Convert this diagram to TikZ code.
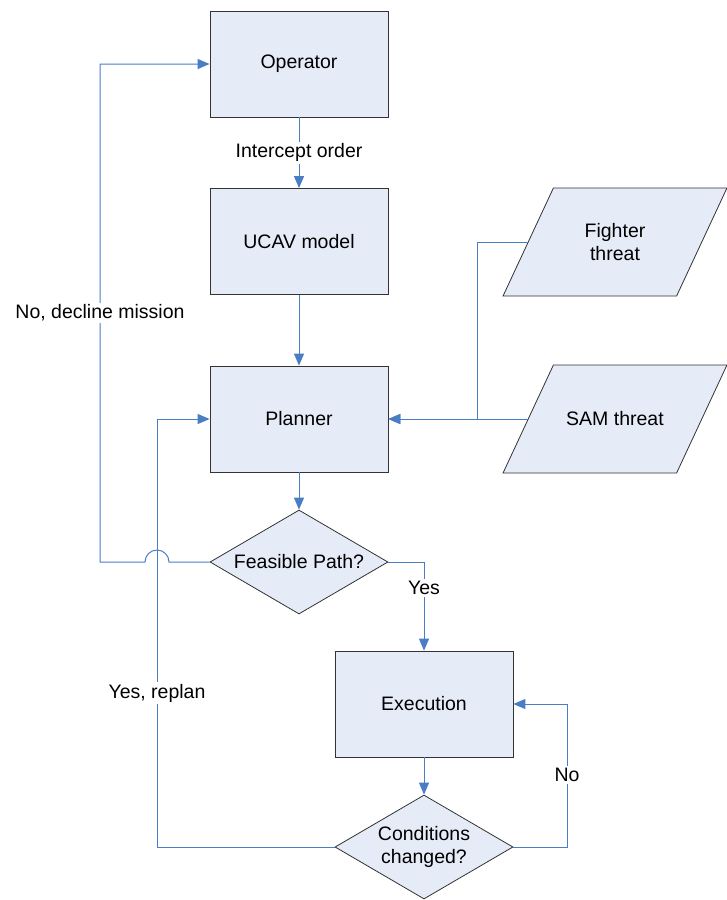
\documentclass[tikz,border=0pt]{standalone}
\usepackage{fontspec}
\setmainfont{Liberation Sans}
\usetikzlibrary{shapes.geometric,arrows.meta}
\definecolor{boxfill}{RGB}{230,236,247}
\definecolor{linkblue}{RGB}{74,126,196}

\begin{document}
\begin{tikzpicture}[x=1pt,y=-1pt,font=\fontsize{19.5}{23}\selectfont,
  block/.style={draw=black!80, fill=boxfill, line width=0.8pt, minimum width=178pt, minimum height=106pt},
  decision/.style={draw=black!80, fill=boxfill, diamond, aspect=1.7, line width=0.8pt, minimum width=178pt, minimum height=104pt, inner sep=0pt, align=center},
  threat/.style={draw=black!80, fill=boxfill, trapezium, trapezium left angle=65, trapezium right angle=115, inner xsep=61.6pt, inner ysep=54pt, line width=0.8pt, label={[align=center]center:#1}},
  link/.style={draw=linkblue, line width=1pt, -{Triangle[length=12pt,width=10pt]}},
  lbl/.style={fill=white, inner sep=2pt}]
  \useasboundingbox (0,0) rectangle (726,900);
  % blocks
  \node[block] (operator) at (299,64) {Operator};
  \node[block] (ucav) at (299,241.5) {UCAV model};
  \node[block] (planner) at (299,419) {Planner};
  \node[decision] (feasible) at (299,562) {Feasible Path?};
  \node[block] (execution) at (424,704) {Execution};
  \node[decision] (changed) at (424,847) {Conditions\\changed?};
  \node[threat={Fighter\\threat}] (fighter) at (615,242) {};
  \node[threat={SAM threat}] (sam) at (615,419) {};
  % connectors
  \draw[link] (operator) -- (ucav) node[lbl, midway] (order) {Intercept order};
  \draw[link] (ucav) -- (planner);
  \draw[link] (planner) -- (feasible);
  \draw[link] (fighter.west) -| (477,419) -- (planner.east);
  \draw[link] (sam.west) -- (planner.east);
  \draw[link] (feasible.west) -- (169,562) arc[start angle=0, end angle=180, radius=12pt] -- (100,562) |- (operator.west);
  \draw[link] (feasible.east) -| (execution.north);
  \draw[link] (execution) -- (changed);
  \draw[link] (changed.east) -- (567,847) |- (execution.east);
  \draw[link] (changed.west) -- (157,847) |- (planner.west);
  % labels
  \node[lbl] (decline) at (100,313) {No, decline mission};
  \node[lbl] (replan) at (157,693) {Yes, replan};
  \node[lbl] (yes) at (424,588) {Yes};
  \node[lbl] (no) at (567,775) {No};
\end{tikzpicture}
\end{document}
